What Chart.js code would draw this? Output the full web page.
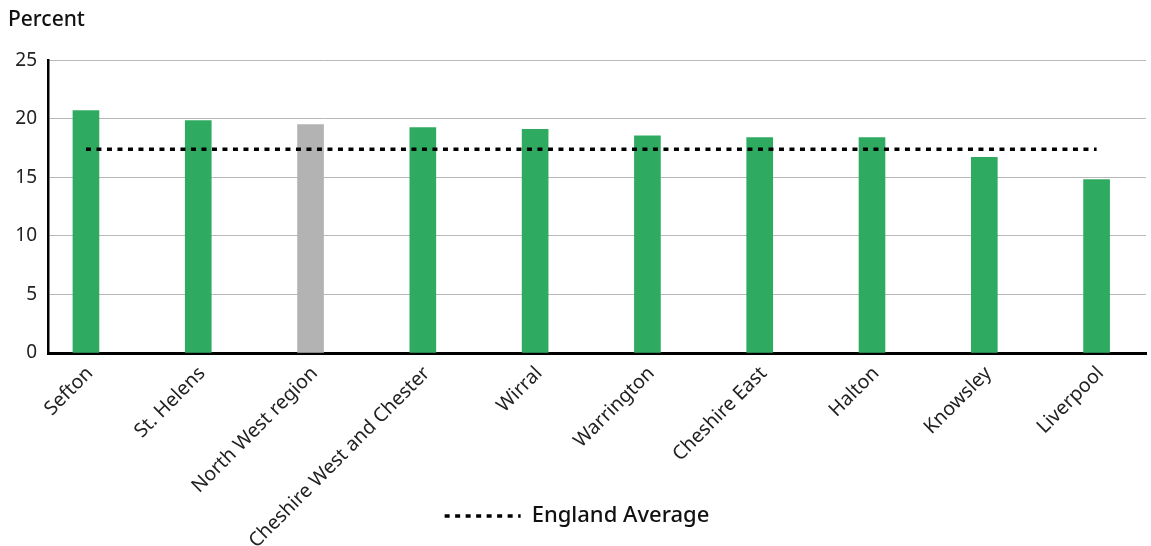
<!DOCTYPE html>
<html>
<head>
<meta charset="utf-8">
<script src="https://cdn.jsdelivr.net/npm/chart.js@4"></script>
<style>
  html, body { margin: 0; padding: 0; background: #fff; }
  #wrap { width: 1151px; height: 546px; position: relative; }
</style>
</head>
<body>
<div id="wrap"><canvas id="chart"></canvas></div>
<script>
const categories = ['Sefton', 'St. Helens', 'North West region', 'Cheshire West and Chester', 'Wirral',
    'Warrington', 'Cheshire East', 'Halton', 'Knowsley', 'Liverpool'];
const percentValues = [20.7, 19.85, 19.5, 19.25, 19.1, 18.55, 18.4, 18.4, 16.7, 14.8];
const englandAverage = [17.4, 17.4, 17.4, 17.4, 17.4, 17.4, 17.4, 17.4, 17.4, 17.4];
const yTicks = [0, 5, 10, 15, 20, 25];
const regionName = 'North West region';

const GREEN = '#2eab61';
const GREY = '#b3b3b3';
const FONT = '"Noto Sans", sans-serif';

// bars sit on a linear x scale so the first bar can sit close to the y axis
const barData = percentValues.map((v, i) => ({ x: i, y: v }));
const avgData = englandAverage.map((v, i) => ({ x: i, y: v }));
const barColors = categories.map(c => c === regionName ? GREY : GREEN);

// legend: only the dotted average line, keep its dash in the sample
function legendLabels(chart) {
    const items = Chart.defaults.plugins.legend.labels.generateLabels(chart);
    return items
        .filter(item => item.text === 'England Average')
        .map(item => {
            const ds = chart.data.datasets[item.datasetIndex];
            return Object.assign(item, {
                lineDash: ds.borderDash,
                lineWidth: ds.borderWidth,
                strokeStyle: ds.borderColor,
                fillStyle: ds.borderColor,
                pointStyle: 'line'
            });
        });
}

const chart = new Chart(document.getElementById('chart'), {
    data: {
        datasets: [
            {
                type: 'line',
                label: 'England Average',
                data: avgData,
                borderColor: '#000',
                borderWidth: 3.5,
                borderDash: [5, 5.5],
                pointRadius: 0,
                fill: false,
                order: 0
            },
            {
                type: 'bar',
                label: 'Percent',
                data: barData,
                backgroundColor: barColors,
                barThickness: 26,
                order: 1
            }
        ]
    },
    options: {
        responsive: true,
        maintainAspectRatio: false,
        animation: false,
        layout: { padding: { left: 8, right: 5, top: 0, bottom: 9 } },
        plugins: {
            title: {
                display: true,
                text: 'Percent',
                align: 'start',
                color: '#111',
                font: { family: FONT, size: 21, weight: '500' },
                padding: { top: 7, bottom: 28 }
            },
            legend: {
                position: 'bottom',
                labels: {
                    generateLabels: legendLabels,
                    usePointStyle: true,
                    pointStyleWidth: 76,
                    color: '#111',
                    font: { family: FONT, size: 22, weight: '500' },
                    padding: 10
                }
            },
            tooltip: { enabled: false }
        },
        scales: {
            x: {
                type: 'linear',
                min: -0.338,
                max: 9.44,
                offset: false,
                grid: { display: false, offset: false },
                border: { display: true, color: '#000', width: 3 },
                afterFit: scale => {
                    scale.height = 142;
                    // let long labels run past the axis box, like the original
                    scale._computeLabelArea = () => undefined;
                },
                ticks: {
                    stepSize: 1,
                    includeBounds: false,
                    autoSkip: false,
                    minRotation: 45,
                    maxRotation: 45,
                    padding: 1,
                    labelOffset: 4,
                    color: '#222',
                    font: { family: FONT, size: 19.5 },
                    callback: v => Number.isInteger(v) ? categories[v] : ''
                }
            },
            y: {
                min: yTicks[0],
                max: yTicks[yTicks.length - 1],
                afterFit: scale => { scale.width = 40; },
                afterBuildTicks: scale => { scale.ticks = yTicks.map(v => ({ value: v })); },
                grid: { color: '#b8b8b8', lineWidth: 1, drawTicks: false },
                border: { display: true, color: '#000', width: 2.5 },
                ticks: {
                    padding: 11,
                    color: '#222',
                    font: { family: FONT, size: 19 }
                }
            }
        }
    }
});
</script>
</body>
</html>
